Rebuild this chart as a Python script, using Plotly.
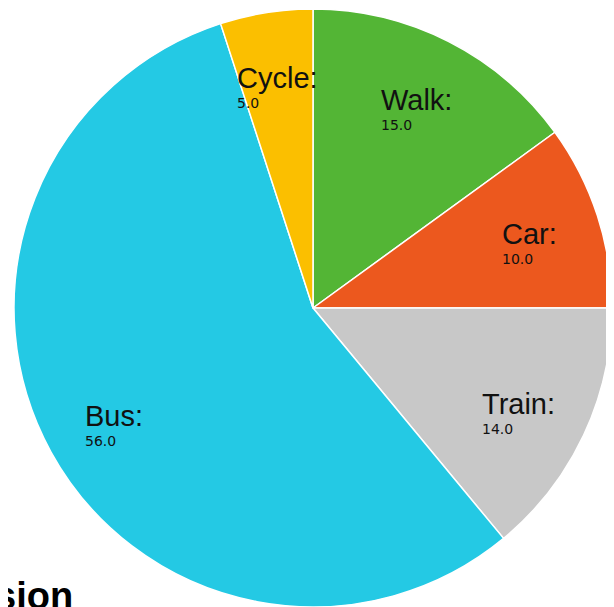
import math
import plotly.graph_objects as go

labels = ["Walk", "Car", "Train", "Bus", "Cycle"]
values = [15.0, 10.0, 14.0, 56.0, 5.0]
colors = ["#53b535", "#ec581e", "#c8c8c8", "#24c9e4", "#fbbf00"]
title_text = "sion"

W, H = 606, 599
CX, CY, R = 305, 300, 299

fig = go.Figure(go.Pie(
    labels=labels, values=values, sort=False, direction="clockwise", rotation=0,
    marker=dict(colors=colors, line=dict(color="white", width=1.5)),
    textinfo="none", hoverinfo="label+value", showlegend=False,
    domain=dict(x=[(CX - R) / W, (CX + R) / W], y=[1 - (CY + R) / H, 1 - (CY - R) / H]),
))

total = sum(values)
cum = 0.0
annotations = []
for lab, v in zip(labels, values):
    mid = (cum + v / 2) / total * 2 * math.pi
    cum += v
    px = CX + 0.76 * R * math.sin(mid)
    py = CY - 0.77 * R * math.cos(mid)
    annotations.append(dict(
        x=px / W, y=1 - py / H, xref="paper", yref="paper",
        xanchor="center", yanchor="middle", yshift=-6, align="left",
        showarrow=False,
        text=f"<span style='font-size:29px;font-family:Liberation Sans, Arial'>{lab}:</span><br><span style='font-size:14px'>{v:.1f}</span>",
        font=dict(size=15, family="DejaVu Sans", color="#111"),
    ))

annotations.append(dict(
    x=67 / W, y=0, xref="paper", yref="paper", xanchor="right", yanchor="bottom",
    yshift=-12, showarrow=False, text=f"<b>{title_text}</b>",
    font=dict(size=38, family="Liberation Sans, Arial", color="black"),
))

fig.update_layout(
    width=W, height=H, margin=dict(l=0, r=0, t=0, b=0),
    paper_bgcolor="white", plot_bgcolor="white", annotations=annotations,
)
fig.write_html("out.html")
